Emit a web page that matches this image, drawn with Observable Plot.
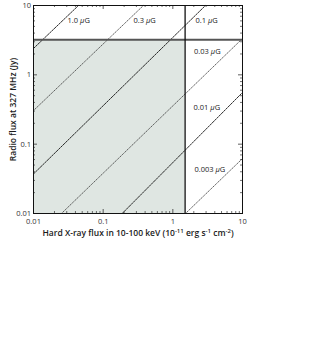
<!DOCTYPE html>
<html>
<head>
<meta charset="utf-8">
<script src="https://cdn.jsdelivr.net/npm/d3@7"></script>
<script src="https://cdn.jsdelivr.net/npm/@observablehq/plot@0.6"></script>
<style>
  html, body { margin: 0; padding: 0; background: #fff; }
  #chart svg { display: block; }
</style>
</head>
<body>
<div id="chart"></div>
<script>
// ---- data ----
const xMajorTicks = [0.01, 0.1, 1, 10];
const xTickLabels = ["0.01", "0.1", "1", "10"];
const yMajorTicks = [0.01, 0.1, 1, 10];
const yTickLabels = ["0.01", "0.1", "1", "10"];
const minorTicks = [0.02,0.03,0.04,0.05,0.06,0.07,0.08,0.09,
                    0.2,0.3,0.4,0.5,0.6,0.7,0.8,0.9,
                    2,3,4,5,6,7,8,9];

// magnetic-field lines: endpoints read on the frame edges
const fieldNames = ["1.0 μG", "0.3 μG", "0.1 μG", "0.03 μG", "0.01 μG", "0.003 μG"];
const lineX1 = [0.01, 0.01, 0.01, 0.0252, 0.1875, 1.52];
const lineY1 = [2.40, 0.305, 0.0372, 0.01, 0.01, 0.01];
const lineX2 = [0.0442, 0.378, 2.94, 10, 10, 10];
const lineY2 = [10, 10, 10, 3.34, 0.556, 0.062];
const lineKind = ["dash", "dot", "dash", "dot", "dash", "dot"];

// label anchors (data coordinates)
const labelX = [0.0308, 0.272, 2.11, 2.01, 1.98, 2.04];
const labelY = [6.07, 6.07, 6.07, 2.17, 0.337, 0.043];

// limits
const xLimit = 1.5;   // hard X-ray flux limit
const yLimit = 3.2;   // radio flux limit
const domainMin = 0.01, domainMax = 10;

const xLabel = "Hard X-ray flux in 10-100 keV (10^{-11} erg s^{-1} cm^{-2})";
const yLabel = "Radio flux at 327 MHz (Jy)";

// ---- build ----
const lines = fieldNames.flatMap((name, i) => [
  {name, kind: lineKind[i], x: lineX1[i], y: lineY1[i]},
  {name, kind: lineKind[i], x: lineX2[i], y: lineY2[i]}
]);
const labels = fieldNames.map((name, i) => ({name, x: labelX[i], y: labelY[i]}));

const W = 316, H = 364;
const mL = 33, mR = 74, mT = 5, mB = 151;
const fw = W - mL - mR, fh = H - mT - mB;
const font = "'Open Sans', 'DejaVu Sans', sans-serif";

const chart = Plot.plot({
  width: W, height: H,
  marginLeft: mL, marginRight: mR, marginTop: mT, marginBottom: mB,
  style: {fontFamily: font, fontSize: "7.5px", color: "#222", background: "#fff"},
  x: {type: "log", domain: [domainMin, domainMax]},
  y: {type: "log", domain: [domainMin, domainMax]},
  marks: [
    Plot.rect([{x1: domainMin, x2: xLimit, y1: domainMin, y2: yLimit}],
      {x1: "x1", x2: "x2", y1: "y1", y2: "y2", fill: "#dfe6e2"}),
    Plot.line(lines.filter(d => d.kind === "dash"),
      {x: "x", y: "y", z: "name", stroke: "#111", strokeWidth: 0.9, strokeDasharray: "2,1.2"}),
    Plot.line(lines.filter(d => d.kind === "dot"),
      {x: "x", y: "y", z: "name", stroke: "#3a3a3a", strokeWidth: 0.8, strokeDasharray: "1,1.4"}),
    Plot.ruleY([yLimit], {stroke: "#555", strokeWidth: 2}),
    Plot.ruleX([xLimit], {stroke: "#111", strokeWidth: 1.3}),
    // inward ticks
    Plot.tickX(minorTicks, {x: d => d, insetTop: fh - 2, stroke: "#333", strokeWidth: 0.7}),
    Plot.tickX(minorTicks, {x: d => d, insetBottom: fh - 2, stroke: "#333", strokeWidth: 0.7}),
    Plot.tickX(xMajorTicks, {x: d => d, insetTop: fh - 4, stroke: "#333", strokeWidth: 0.8}),
    Plot.tickX(xMajorTicks, {x: d => d, insetBottom: fh - 4, stroke: "#333", strokeWidth: 0.8}),
    Plot.tickY(minorTicks, {y: d => d, insetRight: fw - 2, stroke: "#333", strokeWidth: 0.7}),
    Plot.tickY(minorTicks, {y: d => d, insetLeft: fw - 2, stroke: "#333", strokeWidth: 0.7}),
    Plot.tickY(yMajorTicks, {y: d => d, insetRight: fw - 4, stroke: "#333", strokeWidth: 0.8}),
    Plot.tickY(yMajorTicks, {y: d => d, insetLeft: fw - 4, stroke: "#333", strokeWidth: 0.8}),
    Plot.frame({stroke: "#111", strokeWidth: 1}),
    Plot.axisX({ticks: xMajorTicks, tickFormat: d => xTickLabels[xMajorTicks.indexOf(d)],
      tickSize: 0, tickPadding: 5, label: null, fill: "#333"}),
    Plot.axisY({ticks: yMajorTicks, tickFormat: d => yTickLabels[yMajorTicks.indexOf(d)],
      tickSize: 0, tickPadding: 2.5, label: null, fill: "#333"}),
    Plot.text(labels, {x: "x", y: "y", text: "name", textAnchor: "start", fill: "#222", fontSize: 7.5}),
    Plot.text([xLabel], {frameAnchor: "bottom", textAnchor: "middle", dy: 22, text: d => d,
      fontSize: 8.5, fontWeight: 600, fill: "#1a1a1a"}),
    Plot.text([yLabel], {frameAnchor: "left", textAnchor: "middle", dx: -20, rotate: -90, text: d => d,
      fontSize: 8.5, fontWeight: 600, fill: "#1a1a1a"})
  ]
});

// rich text: italic mu, superscripts
d3.select(chart).selectAll("text").each(function () {
  const el = d3.select(this);
  if (el.selectAll("tspan").size() > 0) return;
  const s = this.textContent;
  if (s.includes("μ") && !s.includes("^{")) {
    const [a, b] = s.split("μ");
    el.text(null);
    el.append("tspan").text(a);
    el.append("tspan").attr("font-style", "italic").text("μ");
    el.append("tspan").text(b);
  } else if (s.includes("^{")) {
    el.text(null);
    const parts = s.split(/\^\{([^}]*)\}/);
    parts.forEach((p, i) => {
      if (i % 2 === 0) {
        if (p) el.append("tspan").attr("dy", i > 0 ? "3" : null).text(p);
      } else {
        el.append("tspan").attr("dy", "-3").attr("font-size", "6").text(p);
      }
    });
  }
});

document.getElementById("chart").appendChild(chart);
</script>
</body>
</html>
